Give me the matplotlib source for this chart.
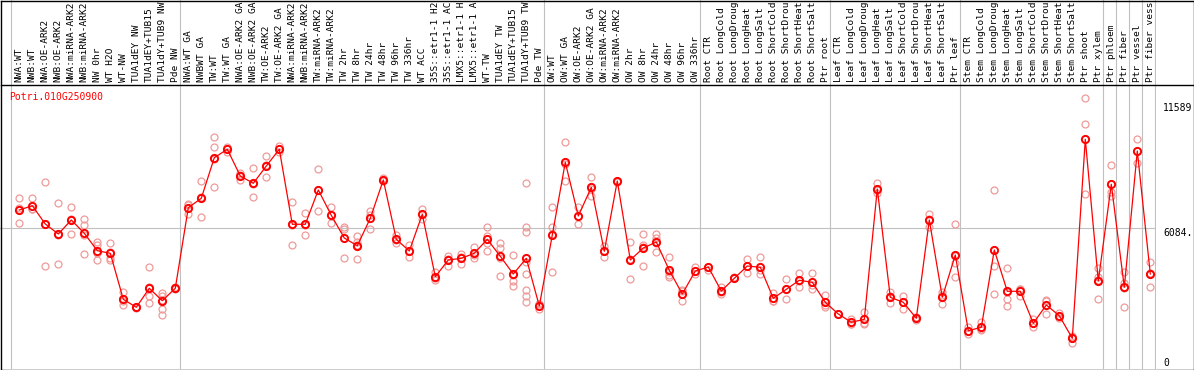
import matplotlib
matplotlib.use("Agg")
import matplotlib.pyplot as plt
import matplotlib.transforms as mtransforms
from matplotlib.lines import Line2D

# sample names, left to right (cut to the part that fits the header, as in the chart)
labels = [
    "NWA:WT", "NWB:WT", "NWA:OE-ARK2", "NWB:OE-ARK2", "NWA:miRNA-ARK2", "NWB:miRNA-ARK2",
    "NW 0hr", "WT H2O", "WT-NW", "TUA1dEY NW", "TUA1dEY+TUB15", "TUA1dY+TUB9 NW", "Pde NW",
    "NWA:WT GA", "NWBWT GA", "TW:WT", "TW:WT GA", "NWA:OE-ARK2 GA", "NWB:OE-ARK2 GA",
    "TW:OE-ARK2", "TW:OE-ARK2 GA", "NWA:miRNA-ARK2", "NWB:miRNA-ARK2", "TW:miRNA-ARK2",
    "TW:miRNA-ARK2", "TW 2hr", "TW 8hr", "TW 24hr", "TW 48hr", "TW 96hr", "TW 336hr", "WT ACC",
    "35S::etr1-1 H2", "35S::etr1-1 AC", "LMX5::etr1-1 H", "LMX5::etr1-1 A", "WT-TW",
    "TUA1dEY TW", "TUA1dEY+TUB15", "TUA1dY+TUB9 TW", "Pde TW",
    "OW:WT", "OW:WT GA", "OW:OE-ARK2", "OW:OE-ARK2 GA", "OW:miRNA-ARK2", "OW:miRNA-ARK2",
    "OW 2hr", "OW 8hr", "OW 24hr", "OW 48hr", "OW 96hr", "OW 336hr",
    "Root CTR", "Root LongCold", "Root LongDroug", "Root LongHeat", "Root LongSalt",
    "Root ShortCold", "Root ShortDrou", "Root ShortHeat", "Root ShortSalt", "Ptr root",
    "Leaf CTR", "Leaf LongCold", "Leaf LongDroug", "Leaf LongHeat", "Leaf LongSalt",
    "Leaf ShortCold", "Leaf ShortDrou", "Leaf ShortHeat", "Leaf ShortSalt", "Ptr leaf",
    "Stem CTR", "Stem LongCold", "Stem LongDroug", "Stem LongHeat", "Stem LongSalt",
    "Stem ShortCold", "Stem ShortDrou", "Stem ShortHeat", "Stem ShortSalt", "Ptr shoot",
    "Ptr xylem", "Ptr phloem", "Ptr fiber", "Ptr vessel", "Ptr fiber vess",
]

# mean expression per sample
means = [
    6861, 7051, 6245, 5805, 6421, 5835, 5069, 4954, 2929, 2576, 3413, 2867, 3413,
    6963, 7377, 9165, 9535, 8359, 8037, 8799, 9535, 6232, 6232, 7742, 6628, 5628,
    5289, 6496, 8183, 5571, 5056, 6672, 3924, 4659, 4734, 4954, 5571, 4822, 4043,
    4734, 2634,
    5760, 8962, 6597, 7861, 5042, 8139, 4659, 5188, 5452, 4206, 3162, 4175,
    4351, 3294, 3853, 4395, 4338, 2973, 3369, 3765, 3677, 2797,
    2281, 1916, 2048, 7786, 3017, 2797, 2092, 6421, 3017, 4880,
    1546, 1696, 5100, 3281, 3281, 1872, 2678, 2206, 1211, 9975, 3735,
    7993, 3457, 9460, 4043,
]

# individual replicates per sample
reps = [
    [7377, 6276, 6930], [7377, 6890, 6890], [8081, 4395, 6259], [7157, 4483, 5775],
    [6980, 5805, 6478], [6465, 6201, 4924, 5750], [5466, 5320, 4954, 4659],
    [5395, 4734, 4659, 5030], [3263, 2678, 2850], [2600, 2550, 2576],
    [4338, 3074, 2752, 3490], [3219, 3074, 2488, 2224, 2900], [3450, 3380],
    [7126, 6685, 7080], [8139, 6567, 7420], [10063, 9649, 7861, 9090], [9429, 9640],
    [8500, 8183, 8400], [8698, 7421, 7990], [9240, 8328, 8830], [9680, 9400],
    [7200, 5320, 6180], [6716, 5760, 6220], [8654, 6817, 7750], [6980, 6276, 6630],
    [6011, 4747, 6130], [5716, 5430, 4690, 5320], [6817, 6011, 6660], [8250, 8120],
    [5760, 5395, 5560], [5320, 4778, 5070], [6892, 6452, 6670], [4144, 3779, 3850],
    [4849, 4408, 4720], [4924, 4470, 4810], [5245, 4761, 4860], [6099, 5069, 5400, 5700],
    [5395, 5175, 3955, 4760], [4880, 3748, 3528, 4020],
    [8037, 6099, 5906, 4043, 3338, 3074, 2823, 4550], [2488, 2700, 2710],
    [6980, 6099, 4144, 5820], [9843, 8139, 8900], [6980, 6232, 6580], [8301, 7478, 7800],
    [5276, 4805, 5040], [8139, 8100], [5466, 3809, 4700], [5805, 5320, 4395, 5230],
    [5805, 5615, 4998, 5390], [4805, 3999, 3900, 4120], [3338, 2854, 3290],
    [4338, 4030, 4160],
    [4351, 4200], [3484, 3162, 3240], [3853, 3900], [4703, 4100, 4380], [4778, 4030, 4200],
    [3193, 2854, 2870], [3809, 2929, 3370], [4074, 3484, 3740], [4074, 3382, 3580],
    [3118, 2603, 2670],
    [2281, 2300], [2061, 1850, 1840], [2383, 1900, 1860], [8037, 7597, 7720],
    [3237, 2752, 3060], [3087, 2488, 2820], [2160, 2030, 2090], [6685, 6126, 6450],
    [3237, 2708, 3100], [6232, 4540, 3897, 4850],
    [1722, 1400, 1520], [1916, 1600, 1570], [7742, 4408, 3162, 5090],
    [4294, 2929, 2634, 3270], [3382, 3087, 3370], [2048, 1696, 1870], [2867, 2281, 2890],
    [2092, 2320, 2200], [1282, 1017, 1330], [11781, 10636, 7553], [4294, 3924, 2929, 3790],
    [8843, 7667, 7470], [4144, 3660, 2603, 3420], [9988, 8945, 9450], [4558, 3484, 4090],
]

# last sample index of each group (-1 = line before the first sample)
group_ends = [-1, 12, 40, 52, 62, 72, 83, 84, 85, 86, 87]
ref_value = 6084
top_value = 11589
gene = "Potri.010G250900"

W, H = 1194, 370
mono = "DejaVu Sans Mono"
grey = "#c0c0c0"


def fx(px):
    return px / W


def fy(py):
    return 1 - py / H


fig = plt.figure(figsize=(W / 100, H / 100), dpi=100)

# x: sample i sits at 19.3 + 13*i pixels
xlim = (-19.3 / 13, (1155.5 - 19.3) / 13)

ax = fig.add_axes([0, fy(369), fx(1155.5), fy(85.5) - fy(369)])
ax.set_xlim(*xlim)
ax.set_ylim(-141, 12344)
ax.axis("off")

hax = fig.add_axes([0, fy(85), fx(1155.5), fy(0) - fy(85)])
hax.set_xlim(*xlim)
hax.set_ylim(0, 85)
hax.axis("off")

for e in group_ends:
    ax.axvline(e + 0.385, color=grey, lw=0.8, zorder=1)
    hax.axvline(e + 0.385, color=grey, lw=0.8, zorder=1)
ax.axhline(ref_value, color=grey, lw=0.8, zorder=1)

for i, vals in enumerate(reps):
    ax.plot([i] * len(vals), vals, linestyle="none", marker="o", ms=5.0, mew=0.9,
            mec="#f09a9a", mfc="none", zorder=2)

ax.plot(range(len(means)), means, color="red", lw=0.9, marker="o", ms=5.2, mew=1.4,
        mec="red", mfc="none", zorder=3)

for i, lab in enumerate(labels):
    hax.text(i, 3, lab, rotation=90, ha="center", va="bottom", fontsize=6.8,
             family=mono, clip_on=True)

fig.text(fx(9), fy(92), gene, color="red", va="top", ha="left", fontsize=7, family=mono)

trans = mtransforms.blended_transform_factory(fig.transFigure, ax.transData)
ax.text(fx(1163), top_value, str(top_value), transform=trans, va="top", ha="left",
        fontsize=7, family=mono, clip_on=False)
ax.text(fx(1163), ref_value, f"{ref_value}.", transform=trans, va="top", ha="left",
        fontsize=7, family=mono, clip_on=False)
ax.text(fx(1163), 0, "0", transform=trans, va="baseline", ha="left",
        fontsize=7, family=mono, clip_on=False)

# black frame and header separator
for xs, ys in [([0.5, 1193.5], [0.5, 0.5]), ([0.5, 1193.5], [369.5, 369.5]),
               ([0.5, 0.5], [0.5, 369.5]), ([1193.5, 1193.5], [0.5, 369.5]),
               ([0.5, 1193.5], [85, 85])]:
    fig.add_artist(Line2D([fx(v) for v in xs], [fy(v) for v in ys], color="black",
                          lw=1.0, transform=fig.transFigure))

fig.savefig("out.png", dpi=100)
